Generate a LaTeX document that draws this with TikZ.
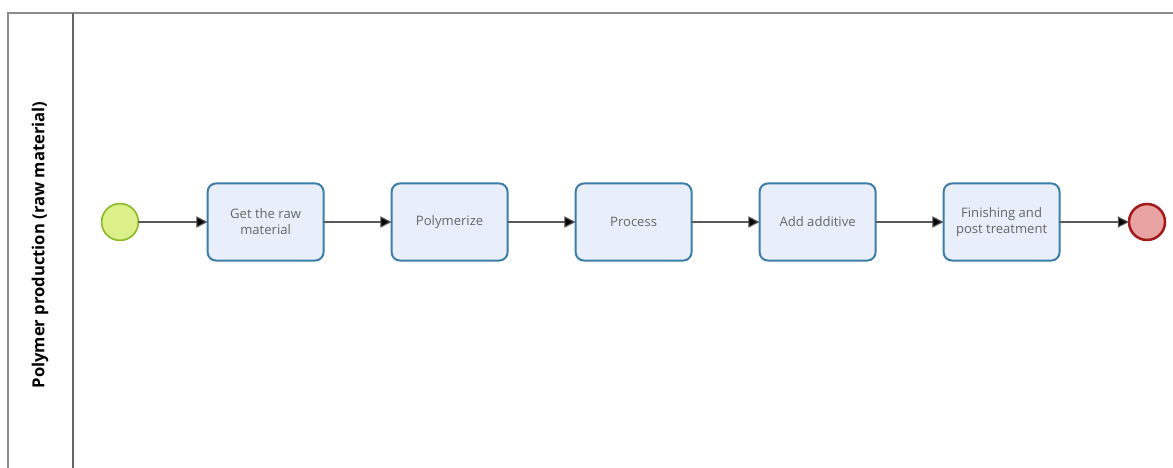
\documentclass[tikz,border=0pt]{standalone}
\usepackage{fontspec}
\setmainfont{Open Sans}
\usepackage{tikz}
\usetikzlibrary{positioning,arrows.meta}

\definecolor{taskfill}{HTML}{E9EFFA}
\definecolor{taskline}{HTML}{3B7DA6}
\definecolor{startfill}{HTML}{DCF08A}
\definecolor{startline}{HTML}{8CBB2C}
\definecolor{endfill}{HTML}{E9A3A3}
\definecolor{endline}{HTML}{A21A1A}
\definecolor{poolline}{HTML}{8C8C8C}

\tikzset{
  task/.style={rectangle, rounded corners=6pt, draw=taskline, line width=1.4pt, fill=taskfill, outer sep=0pt,
    minimum width=2.9cm, minimum height=1.93cm, align=center, text=black!60, font=\fontsize{9.3}{11.5}\selectfont},
  startev/.style={circle, draw=startline, line width=1.2pt, fill=startfill, minimum size=0.92cm, inner sep=0pt, outer sep=0pt},
  endev/.style={circle, draw=endline, line width=1.8pt, fill=endfill, minimum size=0.9cm, inner sep=0pt, outer sep=0pt},
  flow/.style={draw=black!65, line width=0.8pt, -{Triangle[length=8pt,width=8pt,fill=black]}}
}

\begin{document}
\begin{tikzpicture}
  \useasboundingbox (0,0) rectangle (29.325,-11.7);
  % pool and lane
  \draw[poolline, line width=1.3pt] (0.2,-11.7) |- (29.325,-0.325);
  \draw[black!60, line width=1.6pt] (1.825,-0.325) -- (1.825,-11.7);
  \node (lane) [rotate=90, font=\bfseries\fontsize{11.8}{13}\selectfont] at (1.0,-6.125) {Polymer production (raw material)};

  \node (start) [startev] at (3.0,-5.55) {};
  \node (getraw) [task, right=1.73cm of start] {Get the raw\\material};
  \node (polymerize) [task, right=1.7cm of getraw] {Polymerize};
  \node (process) [task, right=1.7cm of polymerize] {Process};
  \node (additive) [task, right=1.7cm of process] {Add additive};
  \node (finishing) [task, right=1.7cm of additive] {Finishing and\\post treatment};
  \node (end) [endev, right=1.735cm of finishing] {};

  \draw[flow] (start) -- (getraw);
  \draw[flow] (getraw) -- (polymerize);
  \draw[flow] (polymerize) -- (process);
  \draw[flow] (process) -- (additive);
  \draw[flow] (additive) -- (finishing);
  \draw[flow] (finishing) -- (end);
\end{tikzpicture}
\end{document}
